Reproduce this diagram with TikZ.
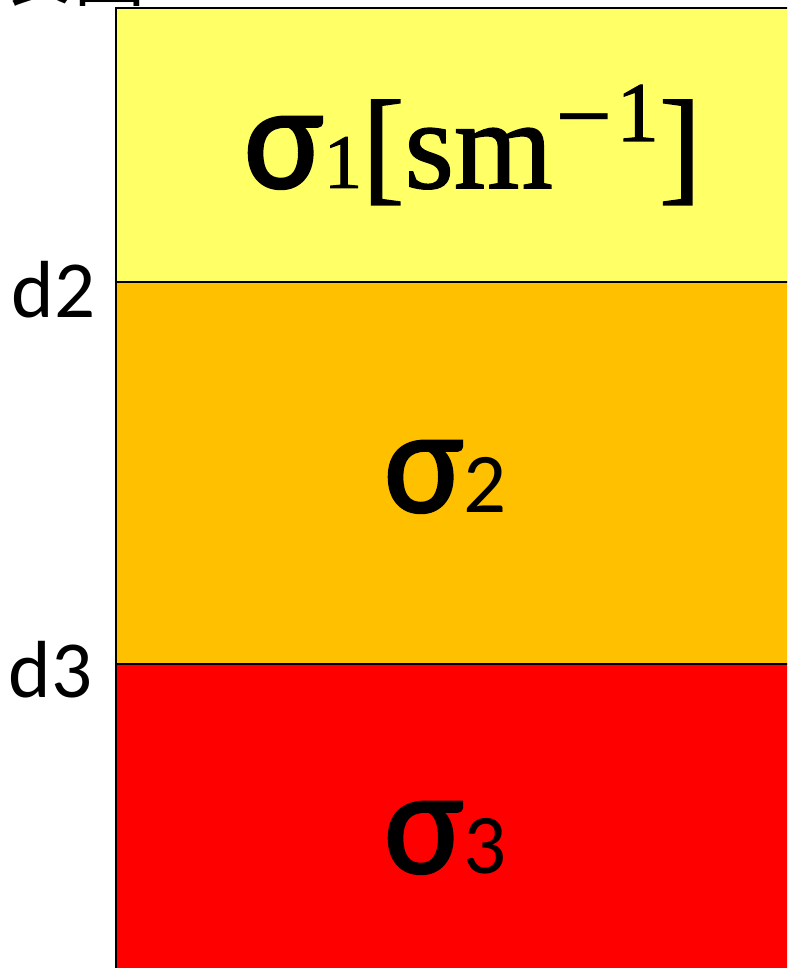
\documentclass[tikz,border=0pt]{standalone}
\usepackage{fontspec}
\setmainfont{Carlito}
\newfontfamily\sigf[FakeBold=1.6]{Carlito}
\newfontfamily\serifr[FakeBold=1.2]{Liberation Serif}
\newfontfamily\minusf{DejaVu Serif}
\newfontfamily\cjk{Noto Sans CJK SC}
\newcommand{\fs}[1]{\fontsize{#1pt}{#1pt}\selectfont}
\begin{document}
\begin{tikzpicture}[x=1pt,y=-1pt,
  layer/.style={draw=black, line width=2pt},
  lbl/.style={inner sep=0pt, outer sep=0pt, anchor=base west}]
\useasboundingbox (0,0) rectangle (787,968);
\clip (0,0) rectangle (787,968);
\definecolor{lyel}{HTML}{FFFF66}
\definecolor{lora}{HTML}{FFC000}
\definecolor{lred}{HTML}{FF0000}
\fill[lyel] (116,8) rectangle (840,282);
\fill[lora] (116,282) rectangle (840,664);
\fill[lred] (116,664) rectangle (840,1000);
\draw[layer] (840,8) -- (116,8) -- (116,1000);
\draw[layer] (116,282) -- (840,282);
\draw[layer] (116,664) -- (840,664);
\node[lbl] (top) at (-3,1) {\cjk\fs{75}表面};
\node[lbl] (d2) at (12,317) {\fs{81}d2};
\node[lbl] (d3) at (9,697) {\fs{81}d3};
\node[lbl] (s1) at (244,188) {{\sigf\fs{150}σ}{\serifr\fs{77}1\fs{127}[sm\raisebox{47pt}{{\minusf\fs{76}−}\fs{85}1}]}};
\node[lbl] (s2) at (384,512) {{\sigf\fs{150}σ}{\fs{85}2}};
\node[lbl] (s3) at (384,873) {{\sigf\fs{150}σ}{\fs{85}3}};
\end{tikzpicture}
\end{document}
